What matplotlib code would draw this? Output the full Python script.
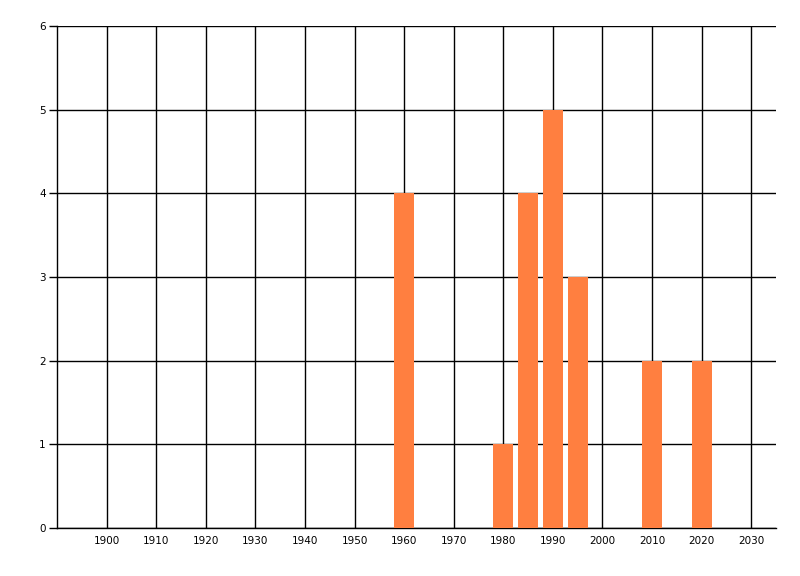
import matplotlib
matplotlib.use("Agg")
import matplotlib.pyplot as plt

years = [1960, 1980, 1985, 1990, 1995, 2010, 2020]
counts = [4, 1, 4, 5, 3, 2, 2]
x_ticks = list(range(1900, 2031, 10))
y_ticks = list(range(0, 7))

fig = plt.figure(figsize=(8, 5.76), dpi=100)
ax = fig.add_axes([57 / 800, 48 / 576, (776 - 57) / 800, (528 - 26) / 576])

ax.bar(years, counts, width=4, color="#FF7F40", zorder=3)

ax.set_xlim(1890, 2035)
ax.set_ylim(0, 6)
ax.set_xticks(x_ticks)
ax.set_yticks(y_ticks)

ax.grid(True, color="black", linewidth=1.0, zorder=0)
ax.set_axisbelow(True)

for side in ["top", "right"]:
    ax.spines[side].set_visible(False)
for side in ["left", "bottom"]:
    ax.spines[side].set_linewidth(1.0)

ax.tick_params(axis="x", length=0, pad=6, labelsize=7.5)
ax.tick_params(axis="y", length=6, width=1, pad=2, labelsize=7.5)

fig.savefig("out.png", dpi=100)
